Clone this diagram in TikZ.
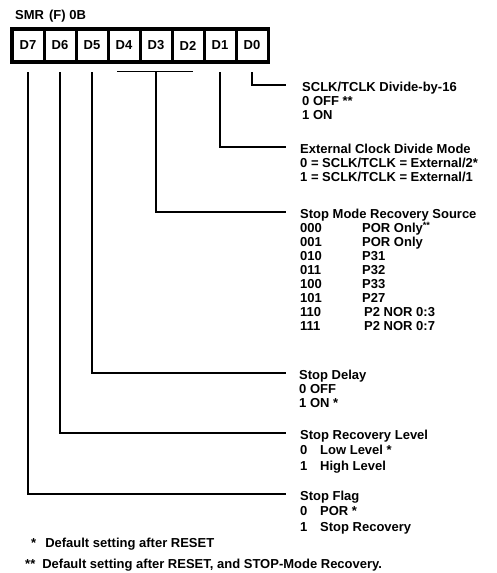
\documentclass[tikz,border=0pt]{standalone}
\usepackage{fontspec}
\setmainfont{Liberation Sans}
\newcommand{\blk}[1]{\begin{tabular}[t]{@{}l@{}}#1\end{tabular}}
\begin{document}
\begin{tikzpicture}[x=1pt,y=-1pt,
  txt/.style={font=\fontsize{13}{14}\selectfont\bfseries, inner sep=0pt, anchor=base west},
  txtwide/.style={txt, font=\fontsize{13}{15.5}\selectfont\bfseries},
  cell/.style={fill=white, minimum width=29pt, minimum height=29pt, inner sep=0pt, font=\fontsize{13}{14}\selectfont\bfseries},
  conn/.style={line width=1.2pt}]
\useasboundingbox (0,0) rectangle (496,573);
% title
\node[txt] (title) at (15,19) {SMR\hspace{5pt}(F) 0B};
% register
\node[fill=black, minimum width=260pt, minimum height=37pt, inner sep=0pt] (reg) at (140,45.5) {};
\node[cell] (d7) at (28,45.5) {D7};
\node[cell] (d6) at (60,45.5) {D6};
\node[cell] (d5) at (92,45.5) {D5};
\node[cell] (d4) at (124,45.5) {D4};
\node[cell] (d3) at (156,45.5) {D3};
\node[cell] (d2) at (188,45.5) {D2};
\node[cell] (d1) at (220,45.5) {D1};
\node[cell] (d0) at (252,45.5) {D0};
% descriptions
\node[txt] (b0) at (302,91) {\blk{SCLK/TCLK Divide-by-16\\0 OFF **\\1 ON}};
\node[txt] (b1) at (300,153) {\blk{External Clock Divide Mode\\0 = SCLK/TCLK = External/2*\\1 = SCLK/TCLK = External/1}};
\node[txt] (b3) at (300,218) {\blk{Stop Mode Recovery Source\\
\makebox[62pt][l]{000}POR Only\textsuperscript{**}\\
\makebox[62pt][l]{001}POR Only\\
\makebox[62pt][l]{010}P31\\
\makebox[62pt][l]{011}P32\\
\makebox[62pt][l]{100}P33\\
\makebox[62pt][l]{101}P27\\
\makebox[64pt][l]{110}P2 NOR 0:3\\
\makebox[64pt][l]{111}P2 NOR 0:7}};
\node[txt] (b5) at (299,379) {\blk{Stop Delay\\0 OFF\\1 ON *}};
\node[txtwide] (b6) at (300,439) {\blk{Stop Recovery Level\\\makebox[20pt][l]{0}Low Level *\\\makebox[20pt][l]{1}High Level}};
\node[txtwide] (b7) at (300,500) {\blk{Stop Flag\\\makebox[20pt][l]{0}POR *\\\makebox[20pt][l]{1}Stop Recovery}};
% footnotes
\node[txt] (fn1) at (31,547) {*\hspace{9pt}Default setting after RESET};
\node[txt] (fn2) at (25,568) {**\hspace{7pt}Default setting after RESET, and STOP-Mode Recovery.};
% connectors
\draw[conn] ([yshift=-12pt]d0.south) |- ([xshift=-16pt,yshift=6pt]b0.base west);
\draw[conn] ([yshift=-12pt]d1.south) |- ([xshift=-14pt,yshift=6pt]b1.base west);
\draw[conn] ([xshift=-7pt,yshift=-11pt]d4.south) -- ([xshift=5pt,yshift=-11pt]d2.south);
\draw[conn] ([yshift=-11pt]d3.south) |- ([xshift=-14pt,yshift=6pt]b3.base west);
\draw[conn] ([yshift=-12pt]d5.south) |- ([xshift=-13pt,yshift=6pt]b5.base west);
\draw[conn] ([yshift=-12pt]d6.south) |- ([xshift=-14pt,yshift=6pt]b6.base west);
\draw[conn] ([yshift=-12pt]d7.south) |- ([xshift=-14pt,yshift=6pt]b7.base west);
\end{tikzpicture}
\end{document}
